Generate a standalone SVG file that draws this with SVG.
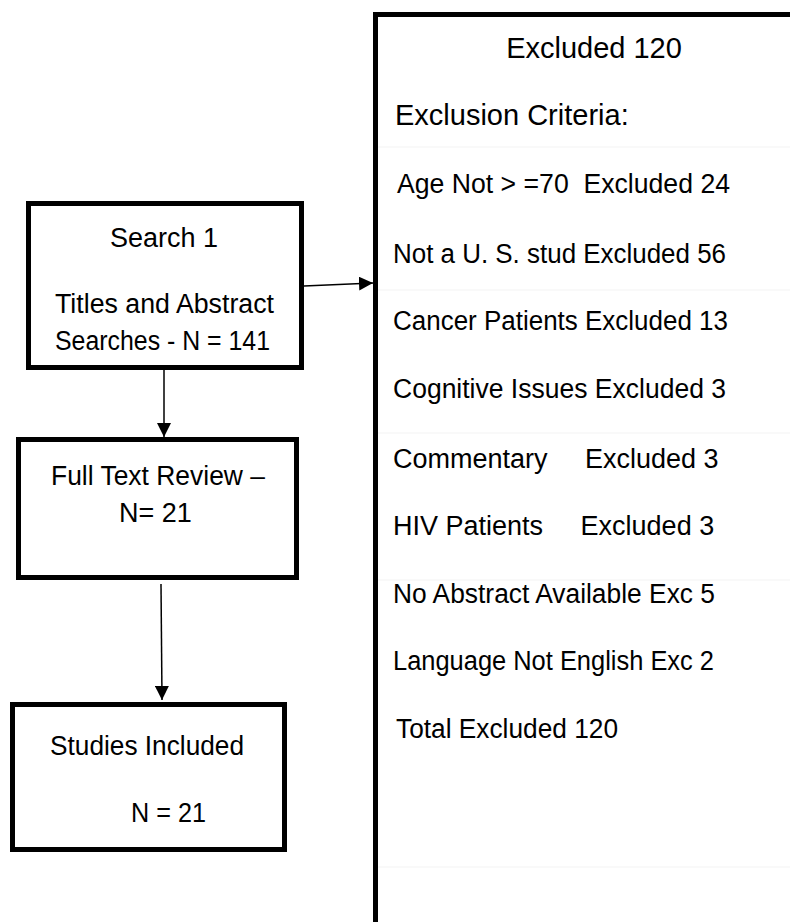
<svg xmlns="http://www.w3.org/2000/svg" width="790" height="922" viewBox="0 0 790 922">
<style>
.box{fill:#fff;stroke:#000;stroke-width:5}
.t{font-family:"Liberation Sans",Arial,sans-serif;fill:#000}
.l{font-size:27px}
.r{font-size:27px}
.h{font-size:29px}
.c{stroke:#000;stroke-width:1.5;fill:none}
.faint{stroke:#f7f7f7;stroke-width:1.5}
</style>
<defs>
<marker id="a" viewBox="0 0 14 14" refX="14" refY="7" markerWidth="14" markerHeight="14" markerUnits="userSpaceOnUse" orient="auto">
<path d="M0,0 L14,7 L0,14 z" fill="#000"/>
</marker>
</defs>
<rect width="790" height="922" fill="#fff"/>
<g id="exclusions">
<rect class="box" x="375.5" y="14.5" width="440" height="930"/>
<g class="faint">
<line x1="378" y1="147" x2="790" y2="147"/>
<line x1="378" y1="290" x2="790" y2="290"/>
<line x1="378" y1="433" x2="790" y2="433"/>
<line x1="378" y1="580" x2="790" y2="580"/>
<line x1="378" y1="867" x2="790" y2="867"/>
</g>
<text class="t h" x="594" y="58" text-anchor="middle">Excluded 120</text>
<text class="t h" x="395" y="125">Exclusion Criteria:</text>
<text class="t r" x="397" y="193" textLength="333" lengthAdjust="spacingAndGlyphs" xml:space="preserve">Age Not &gt; =70  Excluded 24</text>
<text class="t r" x="393" y="263" textLength="333" lengthAdjust="spacingAndGlyphs">Not a U. S. stud Excluded 56</text>
<text class="t r" x="393" y="330" textLength="335" lengthAdjust="spacingAndGlyphs">Cancer Patients Excluded 13</text>
<text class="t r" x="393" y="398" textLength="333" lengthAdjust="spacingAndGlyphs">Cognitive Issues Excluded 3</text>
<text class="t r" x="393" y="468" xml:space="preserve">Commentary     Excluded 3</text>
<text class="t r" x="393" y="535" xml:space="preserve">HIV Patients     Excluded 3</text>
<text class="t r" x="393" y="603" textLength="322" lengthAdjust="spacingAndGlyphs">No Abstract Available Exc 5</text>
<text class="t r" x="393" y="670" textLength="321" lengthAdjust="spacingAndGlyphs">Language Not English Exc 2</text>
<text class="t r" x="396" y="738" textLength="222" lengthAdjust="spacingAndGlyphs">Total Excluded 120</text>
</g>
<g id="search1">
<rect class="box" x="28.5" y="203.5" width="273" height="164"/>
<text class="t l" x="164" y="247" text-anchor="middle">Search 1</text>
<text class="t l" x="55" y="313" textLength="219" lengthAdjust="spacingAndGlyphs">Titles and Abstract</text>
<text class="t l" x="55" y="350" textLength="215" lengthAdjust="spacingAndGlyphs">Searches - N = 141</text>
</g>
<g id="fulltext">
<rect class="box" x="18.5" y="439.5" width="278" height="138"/>
<text class="t l" x="51" y="485" textLength="214" lengthAdjust="spacingAndGlyphs">Full Text Review –</text>
<text class="t l" x="119" y="522">N= 21</text>
</g>
<g id="included">
<rect class="box" x="12.5" y="704.5" width="272" height="145"/>
<text class="t l" x="50" y="755" textLength="194" lengthAdjust="spacingAndGlyphs">Studies Included</text>
<text class="t l" x="131" y="822" textLength="75" lengthAdjust="spacingAndGlyphs">N = 21</text>
</g>
<g id="connectors">
<line class="c" x1="164" y1="370" x2="164" y2="437" marker-end="url(#a)"/>
<line class="c" x1="161" y1="584" x2="162" y2="700" marker-end="url(#a)"/>
<line class="c" x1="304" y1="286" x2="373" y2="283" marker-end="url(#a)"/>
</g>
</svg>
